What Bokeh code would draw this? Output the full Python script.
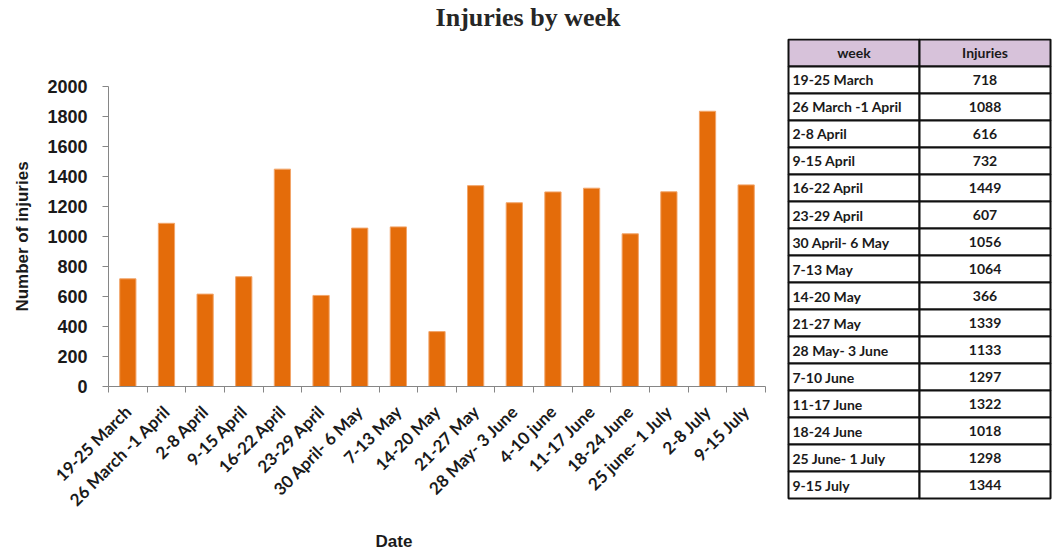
from math import pi
from bokeh.plotting import figure
from bokeh.models import Range1d, FixedTicker, LinearAxis, Title, ColumnDataSource
from bokeh.layouts import row, column
from bokeh.embed import file_html
from bokeh.resources import INLINE
from bokeh.core.properties import value

# ---- data ----
weeks = ["19-25 March", "26 March -1 April", "2-8 April", "9-15 April", "16-22 April",
         "23-29 April", "30 April- 6 May", "7-13 May", "14-20 May", "21-27 May",
         "28 May- 3 June", "4-10 june", "11-17 June", "18-24 June", "25 june- 1 July",
         "2-8 July", "9-15 July"]
injuries = [718, 1088, 616, 732, 1449, 607, 1056, 1064, 366, 1339,
            1225, 1297, 1322, 1018, 1298, 1835, 1344]
y_ticks = [0, 200, 400, 600, 800, 1000, 1200, 1400, 1600, 1800, 2000]

table_header = ["week", "Injuries"]
table_weeks = ["19-25 March", "26 March -1 April", "2-8 April", "9-15  April", "16-22 April",
               "23-29 April", "30 April- 6 May", "7-13 May", "14-20 May", "21-27 May",
               "28 May- 3 June", "7-10 June", "11-17 June", "18-24 June", "25 June- 1 July",
               "9-15 July"]
table_injuries = [718, 1088, 616, 732, 1449, 607, 1056, 1064, 366, 1339,
                  1133, 1297, 1322, 1018, 1298, 1344]

TXT = "#1a1a1a"
AX = "#868686"


def strip(width, height):
    f = figure(width=width, height=height, output_backend="svg", toolbar_location=None,
               x_axis_location=None, y_axis_location=None,
               min_border_left=0, min_border_right=0, min_border_top=0, min_border_bottom=0)
    f.outline_line_color = None
    f.grid.grid_line_color = None
    f.frame_align = False
    return f


# ---- title strip ----
head = strip(1055, 38)
head.add_layout(Title(text="Injuries by week", align="center", standoff=0,
                      text_font="Liberation Serif", text_font_style="bold",
                      text_font_size="26px", text_color="#262626"), "above")

# ---- chart ----
n = len(weeks)
xs = [i + 0.5 for i in range(n)]
bounds = list(range(n + 1))

p = figure(width=786, height=490, x_range=Range1d(0, n), y_range=Range1d(0, 2000),
           output_backend="svg", toolbar_location=None,
           x_axis_location=None, y_axis_location=None,
           min_border_left=108, min_border_right=21, min_border_top=48, min_border_bottom=142)
p.outline_line_color = None
p.grid.grid_line_color = None
p.frame_align = False

p.vbar(x=xs, top=injuries, width=0.42, fill_color="#E46C0A", line_color="#F2A56A", line_width=1)

yaxis = LinearAxis(ticker=FixedTicker(ticks=y_ticks), axis_label="Number of injuries")
yaxis.axis_line_color = AX
yaxis.major_tick_line_color = AX
yaxis.major_tick_out = 6
yaxis.major_tick_in = 0
yaxis.minor_tick_line_color = None
yaxis.major_label_text_font = "Liberation Sans"
yaxis.major_label_text_font_style = "bold"
yaxis.major_label_text_font_size = "18px"
yaxis.major_label_text_color = TXT
yaxis.major_label_standoff = 15
yaxis.axis_label_text_font = "Liberation Sans"
yaxis.axis_label_text_font_style = "bold"
yaxis.axis_label_text_font_size = "17px"
yaxis.axis_label_text_color = TXT
yaxis.axis_label_standoff = 12
p.add_layout(yaxis, "left")

xaxis = LinearAxis(ticker=FixedTicker(ticks=xs, minor_ticks=bounds),
                   major_label_overrides={x: w for x, w in zip(xs, weeks)})
xaxis.axis_line_color = AX
xaxis.major_tick_line_color = None
xaxis.minor_tick_line_color = AX
xaxis.minor_tick_out = 6
xaxis.minor_tick_in = 0
xaxis.major_label_orientation = pi / 4
xaxis.major_label_text_font = "Lato"
xaxis.major_label_text_font_style = "bold"
xaxis.major_label_text_font_size = "17px"
xaxis.major_label_text_color = TXT
xaxis.major_label_standoff = 16
p.add_layout(xaxis, "below")

# ---- x axis title strip ----
foot = strip(786, 25)
foot.add_layout(Title(text="Date", align="left", offset=375, standoff=2,
                      text_font="Liberation Sans", text_font_style="bold",
                      text_font_size="17px", text_color=TXT), "above")

# ---- table ----
nrows = len(table_weeks) + 1

cx, cy, fills = [], [], []
for r in range(nrows):
    for c in range(2):
        cx.append(c + 0.5)
        cy.append(r + 0.5)
        fills.append("#D7C2DA" if r == 0 else "white")

t = figure(width=269, height=515, x_range=Range1d(-0.0153, 2.038), y_range=Range1d(17.074, -0.037),
           output_backend="svg", toolbar_location=None,
           x_axis_location=None, y_axis_location=None,
           min_border_left=0, min_border_right=0, min_border_top=0, min_border_bottom=53)
t.outline_line_color = None
t.grid.grid_line_color = None
t.frame_align = False
t.rect(x=cx, y=cy, width=1, height=1, fill_color=fills, line_color="#111111", line_width=2)

hdr = ColumnDataSource(dict(x=[0.5, 1.5], y=[0.5, 0.5], txt=table_header))
t.text(x="x", y="y", text="txt", source=hdr, text_align="center", text_baseline="middle",
       text_font=value("Lato"), text_font_style="bold", text_font_size="14px", text_color=TXT)

body_y = [r + 0.5 for r in range(1, nrows)]
left_src = ColumnDataSource(dict(x=[0] * len(table_weeks), y=body_y, txt=table_weeks))
t.text(x="x", y="y", text="txt", source=left_src, text_align="left", text_baseline="middle",
       x_offset=4, text_font=value("Lato"), text_font_style="bold", text_font_size="14px",
       text_color=TXT)
right_src = ColumnDataSource(dict(x=[1.5] * len(table_injuries), y=body_y,
                                  txt=[str(v) for v in table_injuries]))
t.text(x="x", y="y", text="txt", source=right_src, text_align="center", text_baseline="middle",
       text_font=value("Lato"), text_font_style="bold", text_font_size="14px",
       text_color=TXT)

layout = column(head, row(column(p, foot), t))
open("out.html", "w").write(file_html(layout, INLINE))
